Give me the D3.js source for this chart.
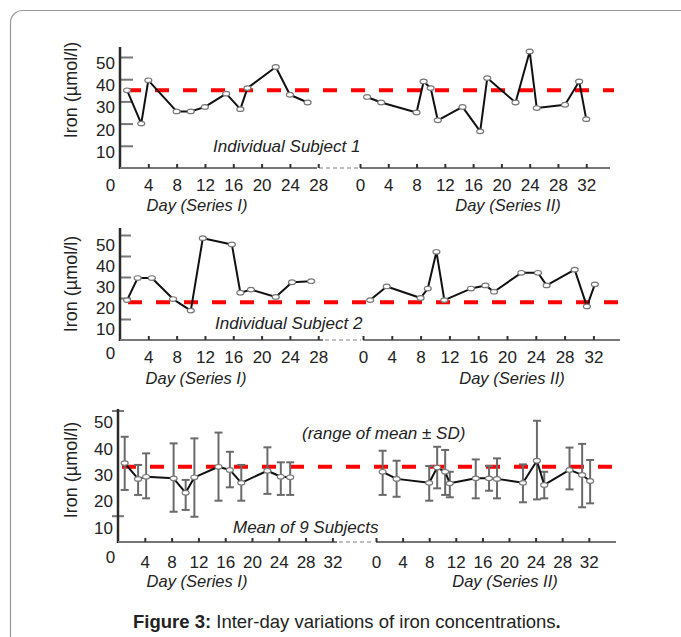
<!DOCTYPE html>
<html>
<head>
<meta charset="utf-8">
<script src="https://cdn.jsdelivr.net/npm/d3@7"></script>
<style>
  body { margin: 0; background: #fff; }
  svg { display: block; font-family: Arial, "Liberation Sans", sans-serif; }
</style>
</head>
<body>
<div id="chart"></div>
<script>
// Values (day, iron in umol/l)

// Individual Subject 1
var subj1DaysI = [1, 3, 4, 8, 10, 12, 15, 17, 18, 22, 24, 26.5];
var subj1IronI = [35, 20, 39.5, 25.5, 25.5, 27.5, 33.5, 26.5, 36, 45.5, 33, 29.5];
var subj1DaysII = [1, 3, 8, 9, 10, 11, 14.5, 17, 18, 22, 24, 25, 29, 31, 32];
var subj1IronII = [32, 29.5, 25, 39, 36, 21.5, 27.5, 16.5, 40.5, 29.5, 52.5, 27, 28.5, 39, 22];

// Individual Subject 2
var subj2DaysI = [1, 2.5, 4.5, 7.5, 10, 11.7, 15.8, 17, 18.5, 22, 24.3, 27];
var subj2IronI = [19, 29.5, 29.5, 19.5, 14, 48.5, 45.5, 22.5, 24, 20.5, 27.5, 28];
var subj2DaysII = [1, 3.3, 8, 9, 10.2, 11.3, 15, 17, 18.2, 22, 24.3, 25.5, 29.4, 31.1, 32.2];
var subj2IronII = [19, 25.5, 20, 24.5, 42, 19, 24.5, 26, 23, 32, 32, 26, 33.5, 16, 26.5];

// Mean of 9 subjects, with the range of mean +/- SD
var meanDaysI = [1, 3, 4.2, 8.3, 10.1, 11.4, 15, 16.7, 18.4, 22.3, 24.3, 25.7];
var meanIronI = [30, 24, 24.8, 24.2, 18.7, 24.6, 28.6, 27.4, 22.5, 27.1, 24.8, 24.6];
var meanLowI = [19.8, 17.9, 16.6, 11.5, 12.2, 9.6, 15.7, 20.8, 15.7, 18.3, 17.9, 17.9];
var meanHighI = [40, 29.3, 33.7, 37.5, 23.6, 39.4, 41.6, 34.3, 29.3, 36, 30.3, 30.3];
var meanDaysII = [1, 3.1, 8, 9.2, 10.4, 11.1, 15, 17, 18.2, 22.1, 24.2, 25.3, 29.1, 31, 32.2];
var meanIronII = [26.7, 24, 22.5, 28.3, 26.7, 22.3, 24.2, 24.2, 24, 22.5, 30.9, 21.7, 27.4, 25.5, 23.2];
var meanLowII = [17.9, 17.2, 15.7, 20.4, 17.9, 17, 16.6, 19.5, 16.6, 15.1, 16.2, 16.6, 20, 13.2, 14.7];
var meanHighII = [34.7, 30.9, 28.9, 36.2, 35, 26.7, 31.4, 28.9, 31.8, 29.5, 46.1, 26.7, 35.9, 37.3, 31.2];

// Red dashed reference levels
var refIron = [35, 18, 28.6];

// Axis ticks
var yTickLabels = [10, 20, 30, 40, 50];
var dayTicks28 = [0, 4, 8, 12, 16, 20, 24, 28];
var dayTicks32 = [0, 4, 8, 12, 16, 20, 24, 28, 32];

var width = 681;
var height = 637;

var svg = d3.select("#chart")
  .append("svg")
  .attr("width", width)
  .attr("height", height);

// Frame around the figure
svg.append("rect")
  .attr("x", 10.5).attr("y", 10.5)
  .attr("width", 760).attr("height", 760)
  .attr("rx", 12)
  .attr("fill", "none")
  .attr("stroke", "#9a9a9a")
  .attr("stroke-width", 1.2);

// Layout of the three panels
var panels = [
  {
    daysI: subj1DaysI, ironI: subj1IronI, daysII: subj1DaysII, ironII: subj1IronII,
    ref: refIron[0], ticksI: dayTicks28, ticksII: dayTicks32,
    base: 168, top50: 57, axisTop: 47,
    x0I: 120, stepI: 7.08, maxI: 28, endI: 317,
    x0II: 360, stepII: 7.07, endII: 610,
    yTicks: yTickLabels, yTickLen: 13, yTickShift: 0, yLabelDy: 6,
    xPad: 11, zeroPad: 11, zeroDx: -10,
    refX0: 127, refX1: 614,
    ylabY: 90, dayY: 211, dayIx: 197, dayIIx: 508,
    note: "Individual Subject 1", noteX: 213, noteY: 152
  },
  {
    daysI: subj2DaysI, ironI: subj2IronI, daysII: subj2DaysII, ironII: subj2IronII,
    ref: refIron[1], ticksI: dayTicks28, ticksII: dayTicks32,
    base: 340, top50: 235, axisTop: 228,
    x0I: 120, stepI: 7.08, maxI: 28, endI: 323,
    x0II: 363, stepII: 7.2, endII: 620,
    yTicks: yTickLabels, yTickLen: 11, yTickShift: 0, yLabelDy: 10,
    xPad: 11, zeroPad: 7, zeroDx: -10,
    refX0: 128, refX1: 620,
    ylabY: 284, dayY: 384, dayIx: 196, dayIIx: 512,
    note: "Individual Subject 2", noteX: 215, noteY: 329
  },
  {
    daysI: meanDaysI, ironI: meanIronI, daysII: meanDaysII, ironII: meanIronII,
    lowI: meanLowI, highI: meanHighI, lowII: meanLowII, highII: meanHighII,
    ref: refIron[2], ticksI: dayTicks32, ticksII: dayTicks32,
    base: 542, top50: 410.5, axisTop: 409,
    x0I: 118, stepI: 6.7, maxI: 32, endI: 337,
    x0II: 376, stepII: 6.65, endII: 616,
    yTicks: [10, 50], yTickLen: 12, yTickShift: -6, yLabelDy: 12,
    xPad: 13.5, zeroPad: 9, zeroDx: -8,
    refX0: 122, refX1: 618,
    ylabY: 470, dayY: 587, dayIx: 197, dayIIx: 505,
    note: "Mean of 9 Subjects", noteX: 233, noteY: 533,
    note2: "(range of mean \u00b1 SD)", note2X: 302, note2Y: 439
  }
];

panels.forEach(drawPanel);

function drawPanel(p) {
  var g = svg.append("g");

  var yScale = d3.scaleLinear().domain([0, 50]).range([p.base, p.top50]);
  var xI = d3.scaleLinear().domain([0, p.maxI]).range([p.x0I, p.x0I + p.maxI * p.stepI]);
  var xII = d3.scaleLinear().domain([0, 32]).range([p.x0II, p.x0II + 32 * p.stepII]);

  // Y axis ticks (inside) and labels
  g.append("g")
    .attr("transform", "translate(" + (p.x0I + p.yTickShift) + ",0)")
    .call(d3.axisRight(yScale).tickValues(p.yTicks).tickSize(p.yTickLen).tickFormat(""))
    .call(function(a) {
      a.select(".domain").remove();
      a.selectAll("line").attr("stroke", "#777").attr("stroke-width", 2);
    });

  g.append("g")
    .attr("transform", "translate(" + p.x0I + "," + p.yLabelDy + ")")
    .call(d3.axisLeft(yScale).tickValues(yTickLabels).tickSize(0).tickPadding(5))
    .call(function(a) {
      a.select(".domain").remove();
      a.selectAll("text")
        .attr("font-size", 17)
        .attr("font-family", "Arial, 'Liberation Sans', sans-serif")
        .attr("fill", "#222");
    });

  // Y axis line
  g.append("line")
    .attr("x1", p.x0I).attr("x2", p.x0I)
    .attr("y1", p.axisTop).attr("y2", p.base + 1)
    .attr("stroke", "#2a2a2a")
    .attr("stroke-width", 2.5);

  // X axes: series I, break, series II
  g.append("line")
    .attr("x1", p.x0I).attr("x2", p.endI)
    .attr("y1", p.base).attr("y2", p.base)
    .attr("stroke", "#777").attr("stroke-width", 2);

  g.append("line")
    .attr("x1", p.endI + 2).attr("x2", p.x0II - 2)
    .attr("y1", p.base).attr("y2", p.base)
    .attr("stroke", "#aaa").attr("stroke-width", 1.5)
    .attr("stroke-dasharray", "4,3");

  g.append("line")
    .attr("x1", p.x0II).attr("x2", p.endII)
    .attr("y1", p.base).attr("y2", p.base)
    .attr("stroke", "#777").attr("stroke-width", 2);

  function styleXAxis(a) {
    a.select(".domain").remove();
    a.selectAll("line").attr("stroke", "#333").attr("stroke-width", 2);
    a.selectAll("text")
      .attr("font-size", 17)
      .attr("font-family", "Arial, 'Liberation Sans', sans-serif")
      .attr("fill", "#222");
  }

  var axI = g.append("g")
    .attr("transform", "translate(0," + p.base + ")")
    .call(d3.axisBottom(xI).tickValues(p.ticksI).tickSize(-4).tickPadding(p.xPad))
    .call(styleXAxis);

  // the 0 of series I sits left of the origin
  axI.selectAll(".tick").filter(function(d) { return d === 0; })
    .call(function(t) {
      t.select("line").remove();
      t.select("text").attr("x", p.zeroDx).attr("y", p.zeroPad);
    });

  g.append("g")
    .attr("transform", "translate(0," + p.base + ")")
    .call(d3.axisBottom(xII).tickValues(p.ticksII).tickSize(-4).tickPadding(p.xPad))
    .call(styleXAxis);

  // Red dashed reference line
  g.append("line")
    .attr("x1", p.refX0).attr("x2", p.refX1)
    .attr("y1", yScale(p.ref)).attr("y2", yScale(p.ref))
    .attr("stroke", "#ff0000")
    .attr("stroke-width", 4)
    .attr("stroke-dasharray", "14,14");

  // Series I and series II
  drawSeries(g, xI, yScale, p.daysI, p.ironI, p.lowI, p.highI);
  drawSeries(g, xII, yScale, p.daysII, p.ironII, p.lowII, p.highII);

  // Texts
  g.append("text")
    .attr("transform", "translate(77," + p.ylabY + ")rotate(-90)")
    .attr("text-anchor", "middle")
    .attr("font-size", 18)
    .attr("fill", "#222")
    .text("Iron (\u00b5mol/l)");

  g.append("text")
    .attr("x", p.dayIx).attr("y", p.dayY)
    .attr("text-anchor", "middle")
    .attr("font-size", 16.5).attr("font-style", "italic").attr("fill", "#222")
    .text("Day (Series I)");

  g.append("text")
    .attr("x", p.dayIIx).attr("y", p.dayY)
    .attr("text-anchor", "middle")
    .attr("font-size", 16.5).attr("font-style", "italic").attr("fill", "#222")
    .text("Day (Series II)");

  g.append("text")
    .attr("x", p.noteX).attr("y", p.noteY)
    .attr("font-size", 17).attr("font-style", "italic").attr("fill", "#222")
    .text(p.note);

  if (p.note2) {
    g.append("text")
      .attr("x", p.note2X).attr("y", p.note2Y)
      .attr("font-size", 17).attr("font-style", "italic").attr("fill", "#222")
      .text(p.note2);
  }
}

function drawSeries(g, xScale, yScale, days, iron, low, high) {
  var pts = days.map(function(d, i) {
    return { day: d, iron: iron[i], low: low ? low[i] : null, high: high ? high[i] : null };
  });

  // Error bars (mean +/- SD)
  if (low) {
    var eb = g.append("g").attr("stroke", "#6a6a6a").attr("stroke-width", 2);
    pts.forEach(function(d) {
      var cx = xScale(d.day);
      eb.append("line")
        .attr("x1", cx).attr("x2", cx)
        .attr("y1", yScale(d.low)).attr("y2", yScale(d.high));
      eb.append("line")
        .attr("x1", cx - 4).attr("x2", cx + 4)
        .attr("y1", yScale(d.low)).attr("y2", yScale(d.low));
      eb.append("line")
        .attr("x1", cx - 4).attr("x2", cx + 4)
        .attr("y1", yScale(d.high)).attr("y2", yScale(d.high));
    });
  }

  var line = d3.line()
    .x(function(d) { return xScale(d.day); })
    .y(function(d) { return yScale(d.iron); });

  g.append("path")
    .datum(pts)
    .attr("d", line)
    .attr("fill", "none")
    .attr("stroke", "#111")
    .attr("stroke-width", 2)
    .attr("stroke-linejoin", "round");

  g.selectAll(null)
    .data(pts)
    .enter()
    .append("ellipse")
    .attr("cx", function(d) { return xScale(d.day); })
    .attr("cy", function(d) { return yScale(d.iron); })
    .attr("rx", 3.5)
    .attr("ry", 2.3)
    .attr("fill", "#fff")
    .attr("stroke", "#777")
    .attr("stroke-width", 1.2);
}

// Caption
var caption = svg.append("text")
  .attr("x", 133)
  .attr("y", 628)
  .attr("font-size", 18.5)
  .attr("fill", "#222");
caption.append("tspan").attr("font-weight", "bold").text("Figure 3:");
caption.append("tspan").text(" Inter-day variations of iron concentrations");
caption.append("tspan").attr("font-weight", "bold").text(".");
</script>
</body>
</html>
